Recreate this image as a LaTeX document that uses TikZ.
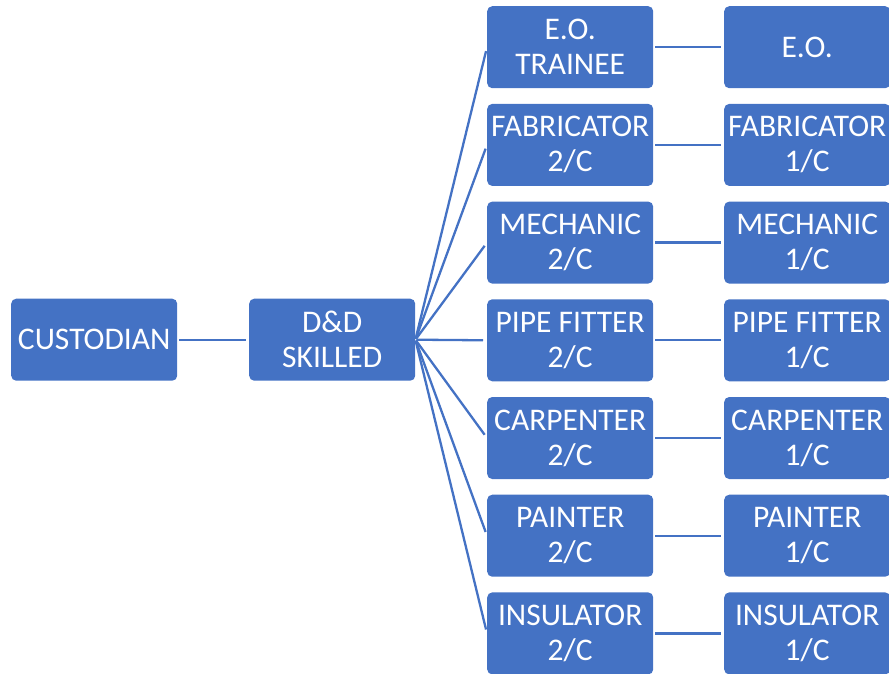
\documentclass[tikz,border=0pt]{standalone}
\usepackage{fontspec}
\setmainfont{Carlito}
\definecolor{boxblue}{RGB}{68,114,196}
\definecolor{linkblue}{RGB}{68,114,196}
\tikzset{
  box/.style={fill=boxblue, rounded corners=5pt, minimum width=166pt, minimum height=82pt,
    inner sep=0pt, text=white, align=center, anchor=north west,
    font=\fontsize{31.5pt}{35pt}\selectfont},
  link/.style={draw=linkblue, line width=2.3pt},
}
\begin{document}
\begin{tikzpicture}[x=1pt,y=-1pt]
\useasboundingbox (0,0) rectangle (889,673);
\begin{scope}
\clip (0,0) rectangle (889,673);
\node[box] (cust) at (11,298.5) {CUSTODIAN};
\node[box] (dd) at (249,298.5) {D\&D\\SKILLED};
\foreach \i/\a/\b in {0/{E.O.\\TRAINEE}/{E.O.},
                      1/{FABRICATOR\\2/C}/{FABRICATOR\\1/C},
                      2/{MECHANIC\\2/C}/{MECHANIC\\1/C},
                      3/{PIPE FITTER\\2/C}/{PIPE FITTER\\1/C},
                      4/{CARPENTER\\2/C}/{CARPENTER\\1/C},
                      5/{PAINTER\\2/C}/{PAINTER\\1/C},
                      6/{INSULATOR\\2/C}/{INSULATOR\\1/C}} {
  \node[box] (c\i) at (487,{6+97.7*\i}) {\a};
  \node[box] (d\i) at (724,{6+97.7*\i}) {\b};
}
\draw[link, shorten <=2pt, shorten >=3pt] (cust.east) -- (dd.west);
\foreach \i in {0,...,6} {
  \draw[link, shorten <=1pt, shorten >=4pt] (dd.east) -- (c\i.west);
  \draw[link, shorten <=2pt, shorten >=3pt] (c\i.east) -- (d\i.west);
}
\end{scope}
\end{tikzpicture}
\end{document}
